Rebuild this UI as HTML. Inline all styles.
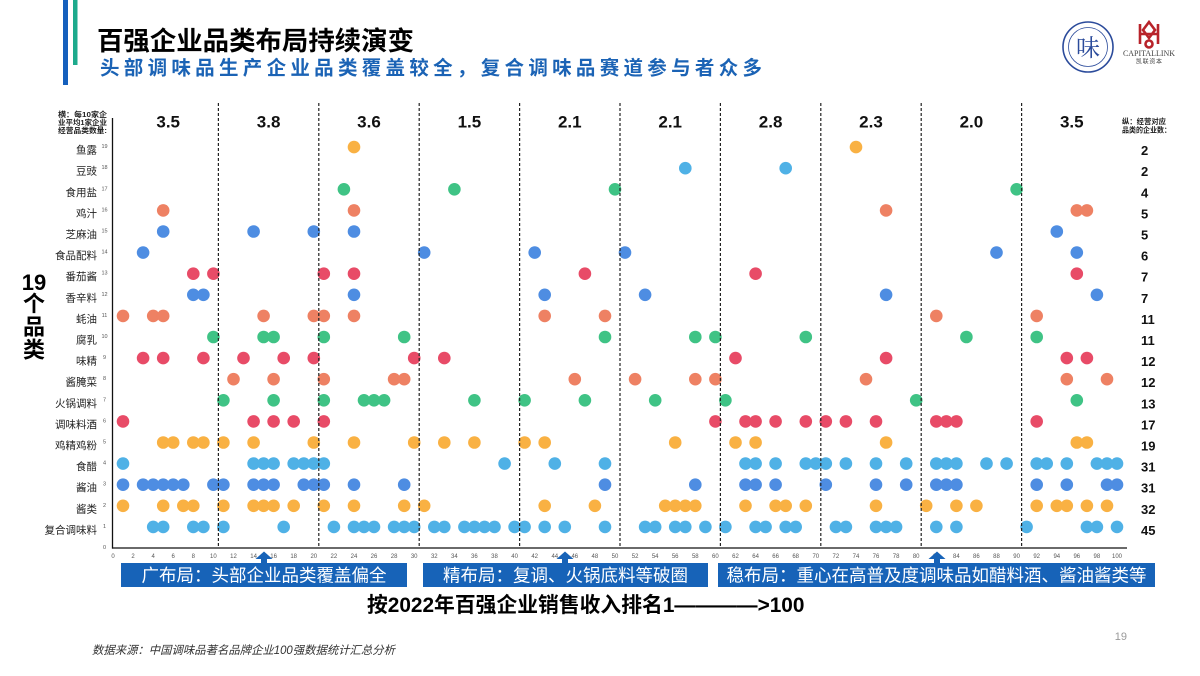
<!DOCTYPE html>
<html><head><meta charset="utf-8"><style>
html,body{margin:0;padding:0;background:#fff;}
svg{display:block;font-family:"Liberation Sans","Noto Sans CJK SC",sans-serif;}
.c{font-size:10.5px;fill:#222;}
.n{font-size:13px;font-weight:bold;fill:#111;}
.yt{font-size:5.5px;fill:#555;}
.xt{font-size:6px;fill:#555;}
.av{font-size:17px;font-weight:bold;fill:#111;}
</style></head><body>
<svg width="1200" height="676" viewBox="0 0 1200 676" xmlns="http://www.w3.org/2000/svg">
<rect width="1200" height="676" fill="#fff"/>
<!-- header bars -->
<rect x="63" y="0" width="5" height="85" fill="#1560BD"/>
<rect x="73" y="0" width="4.5" height="65" fill="#1DAA8C"/>
<text x="97" y="50" font-size="26" font-weight="bold" fill="#000" textLength="317" lengthAdjust="spacingAndGlyphs">百强企业品类布局持续演变</text>
<text x="100" y="74.5" font-size="19.5" font-weight="bold" fill="#1B63B5" textLength="662" lengthAdjust="spacing">头部调味品生产企业品类覆盖较全，复合调味品赛道参与者众多</text>
<!-- logos -->
<circle cx="1088" cy="47" r="25" fill="none" stroke="#2B4B9B" stroke-width="1.6"/>
<circle cx="1088" cy="47" r="19.5" fill="none" stroke="#2B4B9B" stroke-width="0.8"/>
<text x="1088" y="56" font-size="24" text-anchor="middle" fill="#2B4B9B" font-family="Noto Serif CJK SC, serif">味</text>
<g fill="none" stroke="#B8232A" stroke-width="2.6">
<path d="M1140 24 L1140 44 M1158 24 L1158 44 M1140 34 L1158 34"/>
<path d="M1149 22 L1143 30 L1149 38 L1155 30 Z"/>
<circle cx="1149" cy="44" r="3.5"/>
</g>
<text x="1149" y="56" font-size="8" text-anchor="middle" fill="#444" font-family="Liberation Serif, serif" textLength="52" lengthAdjust="spacingAndGlyphs">CAPITALLINK</text>
<text x="1149" y="63.5" font-size="6" text-anchor="middle" fill="#444" textLength="26" lengthAdjust="spacing">凯联资本</text>

<!-- left/right headers -->
<g font-size="7.5" font-weight="bold" fill="#222">
<text x="58" y="117" textLength="49" lengthAdjust="spacingAndGlyphs">横：每10家企</text>
<text x="58" y="125" textLength="49" lengthAdjust="spacingAndGlyphs">业平均1家企业</text>
<text x="58" y="133" textLength="49" lengthAdjust="spacingAndGlyphs">经营品类数量:</text>
<text x="1122" y="124" textLength="44" lengthAdjust="spacingAndGlyphs">纵：经营对应</text>
<text x="1122" y="132.5" textLength="49" lengthAdjust="spacingAndGlyphs">品类的企业数：</text>
</g>

<!-- 19个品类 -->
<g font-weight="bold" fill="#000" text-anchor="middle">
<text x="34" y="290" font-size="22">19</text>
<text x="34" y="311.5" font-size="22">个</text>
<text x="34" y="334.5" font-size="22">品</text>
<text x="34" y="357.5" font-size="22">类</text>
</g>

<!-- category labels -->
<g class="c" text-anchor="end" dominant-baseline="central">
<text x="97" y="150.6">鱼露</text>
<text x="97" y="171.7">豆豉</text>
<text x="97" y="192.8">食用盐</text>
<text x="97" y="213.9">鸡汁</text>
<text x="97" y="235">芝麻油</text>
<text x="97" y="256.1">食品配料</text>
<text x="97" y="277.2">番茄酱</text>
<text x="97" y="298.3">香辛料</text>
<text x="97" y="319.4">蚝油</text>
<text x="97" y="340.5">腐乳</text>
<text x="97" y="361.6">味精</text>
<text x="97" y="382.7">酱腌菜</text>
<text x="97" y="403.8">火锅调料</text>
<text x="97" y="424.9">调味料酒</text>
<text x="97" y="446">鸡精鸡粉</text>
<text x="97" y="467.1">食醋</text>
<text x="97" y="488.2">酱油</text>
<text x="97" y="509.3">酱类</text>
<text x="97" y="530.4">复合调味料</text>
</g>
<g class="yt" text-anchor="middle" dominant-baseline="central">
<text x="104.5" y="147.1">19</text><text x="104.5" y="168.2">18</text><text x="104.5" y="189.3">17</text>
<text x="104.5" y="210.4">16</text><text x="104.5" y="231.5">15</text><text x="104.5" y="252.6">14</text>
<text x="104.5" y="273.7">13</text><text x="104.5" y="294.8">12</text><text x="104.5" y="315.9">11</text>
<text x="104.5" y="337">10</text><text x="104.5" y="358.1">9</text><text x="104.5" y="379.2">8</text>
<text x="104.5" y="400.3">7</text><text x="104.5" y="421.4">6</text><text x="104.5" y="442.5">5</text>
<text x="104.5" y="463.6">4</text><text x="104.5" y="484.7">3</text><text x="104.5" y="505.8">2</text>
<text x="104.5" y="526.9">1</text><text x="104.5" y="548">0</text>
</g>

<!-- right counts -->
<g class="n" dominant-baseline="central">
<text x="1141" y="150.6">2</text>
<text x="1141" y="171.7">2</text>
<text x="1141" y="192.8">4</text>
<text x="1141" y="213.9">5</text>
<text x="1141" y="235">5</text>
<text x="1141" y="256.1">6</text>
<text x="1141" y="277.2">7</text>
<text x="1141" y="298.3">7</text>
<text x="1141" y="319.4">11</text>
<text x="1141" y="340.5">11</text>
<text x="1141" y="361.6">12</text>
<text x="1141" y="382.7">12</text>
<text x="1141" y="403.8">13</text>
<text x="1141" y="424.9">17</text>
<text x="1141" y="446">19</text>
<text x="1141" y="467.1">31</text>
<text x="1141" y="488.2">31</text>
<text x="1141" y="509.3">32</text>
<text x="1141" y="530.4">45</text>
</g>

<!-- averages -->
<g class="av" text-anchor="middle">
<text x="168.2" y="127.5">3.5</text>
<text x="268.6" y="127.5">3.8</text>
<text x="369" y="127.5">3.6</text>
<text x="469.4" y="127.5">1.5</text>
<text x="569.8" y="127.5">2.1</text>
<text x="670.2" y="127.5">2.1</text>
<text x="770.6" y="127.5">2.8</text>
<text x="871" y="127.5">2.3</text>
<text x="971.4" y="127.5">2.0</text>
<text x="1071.8" y="127.5">3.5</text>
</g>

<!-- dots -->
<g fill="#F9B143"><g transform="translate(0,147.1)"><circle cx="354" r="6.3"/><circle cx="856" r="6.3"/></g></g>
<g fill="#4FB1E6" transform="translate(0,168.2)"><circle cx="685.3" r="6.3"/><circle cx="785.7" r="6.3"/></g>
<g fill="#3FC385" transform="translate(0,189.3)"><circle cx="343.9" r="6.3"/><circle cx="454.4" r="6.3"/><circle cx="615" r="6.3"/><circle cx="1016.6" r="6.3"/></g>
<g fill="#EE8163" transform="translate(0,210.4)"><circle cx="163.2" r="6.3"/><circle cx="354" r="6.3"/><circle cx="886.1" r="6.3"/><circle cx="1076.8" r="6.3"/><circle cx="1086.9" r="6.3"/></g>
<g fill="#4E8DE2" transform="translate(0,231.5)"><circle cx="163.2" r="6.3"/><circle cx="253.6" r="6.3"/><circle cx="313.8" r="6.3"/><circle cx="354" r="6.3"/><circle cx="1056.8" r="6.3"/></g>
<g fill="#4E8DE2" transform="translate(0,252.6)"><circle cx="143.1" r="6.3"/><circle cx="424.2" r="6.3"/><circle cx="534.7" r="6.3"/><circle cx="625" r="6.3"/><circle cx="996.5" r="6.3"/><circle cx="1076.8" r="6.3"/></g>
<g fill="#E84B67" transform="translate(0,273.7)"><circle cx="193.3" r="6.3"/><circle cx="213.4" r="6.3"/><circle cx="323.8" r="6.3"/><circle cx="354" r="6.3"/><circle cx="584.9" r="6.3"/><circle cx="755.6" r="6.3"/><circle cx="1076.8" r="6.3"/></g>
<g fill="#4E8DE2" transform="translate(0,294.8)"><circle cx="193.3" r="6.3"/><circle cx="203.4" r="6.3"/><circle cx="354" r="6.3"/><circle cx="544.7" r="6.3"/><circle cx="645.1" r="6.3"/><circle cx="886.1" r="6.3"/><circle cx="1096.9" r="6.3"/></g>
<g fill="#EE8163" transform="translate(0,315.9)"><circle cx="123" r="6.3"/><circle cx="153.2" r="6.3"/><circle cx="163.2" r="6.3"/><circle cx="263.6" r="6.3"/><circle cx="313.8" r="6.3"/><circle cx="323.8" r="6.3"/><circle cx="354" r="6.3"/><circle cx="544.7" r="6.3"/><circle cx="605" r="6.3"/><circle cx="936.3" r="6.3"/><circle cx="1036.7" r="6.3"/></g>
<g fill="#3FC385" transform="translate(0,337)"><circle cx="213.4" r="6.3"/><circle cx="263.6" r="6.3"/><circle cx="273.6" r="6.3"/><circle cx="323.8" r="6.3"/><circle cx="404.2" r="6.3"/><circle cx="605" r="6.3"/><circle cx="695.3" r="6.3"/><circle cx="715.4" r="6.3"/><circle cx="805.8" r="6.3"/><circle cx="966.4" r="6.3"/><circle cx="1036.7" r="6.3"/></g>
<g fill="#E84B67" transform="translate(0,358.1)"><circle cx="143.1" r="6.3"/><circle cx="163.2" r="6.3"/><circle cx="203.4" r="6.3"/><circle cx="243.5" r="6.3"/><circle cx="283.7" r="6.3"/><circle cx="313.8" r="6.3"/><circle cx="414.2" r="6.3"/><circle cx="444.3" r="6.3"/><circle cx="735.5" r="6.3"/><circle cx="886.1" r="6.3"/><circle cx="1066.8" r="6.3"/><circle cx="1086.9" r="6.3"/></g>
<g fill="#EE8163" transform="translate(0,379.2)"><circle cx="233.5" r="6.3"/><circle cx="273.6" r="6.3"/><circle cx="323.8" r="6.3"/><circle cx="394.1" r="6.3"/><circle cx="404.2" r="6.3"/><circle cx="574.8" r="6.3"/><circle cx="635.1" r="6.3"/><circle cx="695.3" r="6.3"/><circle cx="715.4" r="6.3"/><circle cx="866" r="6.3"/><circle cx="1066.8" r="6.3"/><circle cx="1107" r="6.3"/></g>
<g fill="#3FC385" transform="translate(0,400.3)"><circle cx="223.4" r="6.3"/><circle cx="273.6" r="6.3"/><circle cx="323.8" r="6.3"/><circle cx="364" r="6.3"/><circle cx="374" r="6.3"/><circle cx="384.1" r="6.3"/><circle cx="474.4" r="6.3"/><circle cx="524.6" r="6.3"/><circle cx="584.9" r="6.3"/><circle cx="655.2" r="6.3"/><circle cx="725.4" r="6.3"/><circle cx="916.2" r="6.3"/><circle cx="1076.8" r="6.3"/></g>
<g fill="#E84B67" transform="translate(0,421.4)"><circle cx="123" r="6.3"/><circle cx="253.6" r="6.3"/><circle cx="273.6" r="6.3"/><circle cx="293.7" r="6.3"/><circle cx="323.8" r="6.3"/><circle cx="715.4" r="6.3"/><circle cx="745.5" r="6.3"/><circle cx="755.6" r="6.3"/><circle cx="775.6" r="6.3"/><circle cx="805.8" r="6.3"/><circle cx="825.8" r="6.3"/><circle cx="845.9" r="6.3"/><circle cx="876" r="6.3"/><circle cx="936.3" r="6.3"/><circle cx="946.3" r="6.3"/><circle cx="956.4" r="6.3"/><circle cx="1036.7" r="6.3"/></g>
<g fill="#F9B143" transform="translate(0,442.5)"><circle cx="163.2" r="6.3"/><circle cx="173.2" r="6.3"/><circle cx="193.3" r="6.3"/><circle cx="203.4" r="6.3"/><circle cx="223.4" r="6.3"/><circle cx="253.6" r="6.3"/><circle cx="313.8" r="6.3"/><circle cx="354" r="6.3"/><circle cx="414.2" r="6.3"/><circle cx="444.3" r="6.3"/><circle cx="474.4" r="6.3"/><circle cx="524.6" r="6.3"/><circle cx="544.7" r="6.3"/><circle cx="675.2" r="6.3"/><circle cx="735.5" r="6.3"/><circle cx="755.6" r="6.3"/><circle cx="886.1" r="6.3"/><circle cx="1076.8" r="6.3"/><circle cx="1086.9" r="6.3"/></g>
<g fill="#4FB1E6" transform="translate(0,463.6)"><circle cx="123" r="6.3"/><circle cx="253.6" r="6.3"/><circle cx="263.6" r="6.3"/><circle cx="273.6" r="6.3"/><circle cx="293.7" r="6.3"/><circle cx="303.8" r="6.3"/><circle cx="313.8" r="6.3"/><circle cx="323.8" r="6.3"/><circle cx="504.6" r="6.3"/><circle cx="554.8" r="6.3"/><circle cx="605" r="6.3"/><circle cx="745.5" r="6.3"/><circle cx="755.6" r="6.3"/><circle cx="775.6" r="6.3"/><circle cx="805.8" r="6.3"/><circle cx="815.8" r="6.3"/><circle cx="825.8" r="6.3"/><circle cx="845.9" r="6.3"/><circle cx="876" r="6.3"/><circle cx="906.2" r="6.3"/><circle cx="936.3" r="6.3"/><circle cx="946.3" r="6.3"/><circle cx="956.4" r="6.3"/><circle cx="986.5" r="6.3"/><circle cx="1006.6" r="6.3"/><circle cx="1036.7" r="6.3"/><circle cx="1046.7" r="6.3"/><circle cx="1066.8" r="6.3"/><circle cx="1096.9" r="6.3"/><circle cx="1107" r="6.3"/><circle cx="1117" r="6.3"/></g>
<g fill="#4E8DE2" transform="translate(0,484.7)"><circle cx="123" r="6.3"/><circle cx="143.1" r="6.3"/><circle cx="153.2" r="6.3"/><circle cx="163.2" r="6.3"/><circle cx="173.2" r="6.3"/><circle cx="183.3" r="6.3"/><circle cx="213.4" r="6.3"/><circle cx="223.4" r="6.3"/><circle cx="253.6" r="6.3"/><circle cx="263.6" r="6.3"/><circle cx="273.6" r="6.3"/><circle cx="303.8" r="6.3"/><circle cx="313.8" r="6.3"/><circle cx="323.8" r="6.3"/><circle cx="354" r="6.3"/><circle cx="404.2" r="6.3"/><circle cx="605" r="6.3"/><circle cx="695.3" r="6.3"/><circle cx="745.5" r="6.3"/><circle cx="755.6" r="6.3"/><circle cx="775.6" r="6.3"/><circle cx="825.8" r="6.3"/><circle cx="876" r="6.3"/><circle cx="906.2" r="6.3"/><circle cx="936.3" r="6.3"/><circle cx="946.3" r="6.3"/><circle cx="956.4" r="6.3"/><circle cx="1036.7" r="6.3"/><circle cx="1066.8" r="6.3"/><circle cx="1107" r="6.3"/><circle cx="1117" r="6.3"/></g>
<g fill="#F9B143" transform="translate(0,505.8)"><circle cx="123" r="6.3"/><circle cx="163.2" r="6.3"/><circle cx="183.3" r="6.3"/><circle cx="193.3" r="6.3"/><circle cx="223.4" r="6.3"/><circle cx="253.6" r="6.3"/><circle cx="263.6" r="6.3"/><circle cx="273.6" r="6.3"/><circle cx="293.7" r="6.3"/><circle cx="323.8" r="6.3"/><circle cx="354" r="6.3"/><circle cx="404.2" r="6.3"/><circle cx="424.2" r="6.3"/><circle cx="544.7" r="6.3"/><circle cx="594.9" r="6.3"/><circle cx="665.2" r="6.3"/><circle cx="675.2" r="6.3"/><circle cx="685.3" r="6.3"/><circle cx="695.3" r="6.3"/><circle cx="745.5" r="6.3"/><circle cx="775.6" r="6.3"/><circle cx="785.7" r="6.3"/><circle cx="805.8" r="6.3"/><circle cx="876" r="6.3"/><circle cx="926.2" r="6.3"/><circle cx="956.4" r="6.3"/><circle cx="976.4" r="6.3"/><circle cx="1036.7" r="6.3"/><circle cx="1056.8" r="6.3"/><circle cx="1066.8" r="6.3"/><circle cx="1086.9" r="6.3"/><circle cx="1107" r="6.3"/></g>
<g fill="#4FB1E6" transform="translate(0,526.9)"><circle cx="153.2" r="6.3"/><circle cx="163.2" r="6.3"/><circle cx="193.3" r="6.3"/><circle cx="203.4" r="6.3"/><circle cx="223.4" r="6.3"/><circle cx="283.7" r="6.3"/><circle cx="333.9" r="6.3"/><circle cx="354" r="6.3"/><circle cx="364" r="6.3"/><circle cx="374" r="6.3"/><circle cx="394.1" r="6.3"/><circle cx="404.2" r="6.3"/><circle cx="414.2" r="6.3"/><circle cx="434.3" r="6.3"/><circle cx="444.3" r="6.3"/><circle cx="464.4" r="6.3"/><circle cx="474.4" r="6.3"/><circle cx="484.5" r="6.3"/><circle cx="494.5" r="6.3"/><circle cx="514.6" r="6.3"/><circle cx="524.6" r="6.3"/><circle cx="544.7" r="6.3"/><circle cx="564.8" r="6.3"/><circle cx="605" r="6.3"/><circle cx="645.1" r="6.3"/><circle cx="655.2" r="6.3"/><circle cx="675.2" r="6.3"/><circle cx="685.3" r="6.3"/><circle cx="705.4" r="6.3"/><circle cx="725.4" r="6.3"/><circle cx="755.6" r="6.3"/><circle cx="765.6" r="6.3"/><circle cx="785.7" r="6.3"/><circle cx="795.7" r="6.3"/><circle cx="835.9" r="6.3"/><circle cx="845.9" r="6.3"/><circle cx="876" r="6.3"/><circle cx="886.1" r="6.3"/><circle cx="896.1" r="6.3"/><circle cx="936.3" r="6.3"/><circle cx="956.4" r="6.3"/><circle cx="1026.6" r="6.3"/><circle cx="1086.9" r="6.3"/><circle cx="1096.9" r="6.3"/><circle cx="1117" r="6.3"/></g>

<!-- dashed separators -->
<g stroke="#222" stroke-width="1.2" stroke-dasharray="3,2">
<line x1="218.4" y1="103" x2="218.4" y2="548"/>
<line x1="318.8" y1="103" x2="318.8" y2="548"/>
<line x1="419.2" y1="103" x2="419.2" y2="548"/>
<line x1="519.6" y1="103" x2="519.6" y2="548"/>
<line x1="620" y1="103" x2="620" y2="548"/>
<line x1="720.4" y1="103" x2="720.4" y2="548"/>
<line x1="820.8" y1="103" x2="820.8" y2="548"/>
<line x1="921.2" y1="103" x2="921.2" y2="548"/>
<line x1="1021.6" y1="103" x2="1021.6" y2="548"/>
</g>
<!-- axes -->
<line x1="112.5" y1="118" x2="112.5" y2="548.6" stroke="#111" stroke-width="1.3"/>
<line x1="112" y1="548" x2="1127" y2="548" stroke="#111" stroke-width="1.3"/>

<!-- x tick labels -->
<g class="xt" text-anchor="middle">
<text x="113" y="558">0</text><text x="133.1" y="558">2</text><text x="153.2" y="558">4</text><text x="173.2" y="558">6</text><text x="193.3" y="558">8</text>
<text x="213.4" y="558">10</text><text x="233.5" y="558">12</text><text x="253.6" y="558">14</text><text x="273.6" y="558">16</text><text x="293.7" y="558">18</text>
<text x="313.8" y="558">20</text><text x="333.9" y="558">22</text><text x="354" y="558">24</text><text x="374" y="558">26</text><text x="394.1" y="558">28</text>
<text x="414.2" y="558">30</text><text x="434.3" y="558">32</text><text x="454.4" y="558">34</text><text x="474.4" y="558">36</text><text x="494.5" y="558">38</text>
<text x="514.6" y="558">40</text><text x="534.7" y="558">42</text><text x="554.8" y="558">44</text><text x="574.8" y="558">46</text><text x="594.9" y="558">48</text>
<text x="615" y="558">50</text><text x="635.1" y="558">52</text><text x="655.2" y="558">54</text><text x="675.2" y="558">56</text><text x="695.3" y="558">58</text>
<text x="715.4" y="558">60</text><text x="735.5" y="558">62</text><text x="755.6" y="558">64</text><text x="775.6" y="558">66</text><text x="795.7" y="558">68</text>
<text x="815.8" y="558">70</text><text x="835.9" y="558">72</text><text x="856" y="558">74</text><text x="876" y="558">76</text><text x="896.1" y="558">78</text>
<text x="916.2" y="558">80</text><text x="936.3" y="558">82</text><text x="956.4" y="558">84</text><text x="976.4" y="558">86</text><text x="996.5" y="558">88</text>
<text x="1016.6" y="558">90</text><text x="1036.7" y="558">92</text><text x="1056.8" y="558">94</text><text x="1076.8" y="558">96</text><text x="1096.9" y="558">98</text>
<text x="1117" y="558">100</text>
</g>

<!-- arrows -->
<g fill="#1763B8">
<path d="M255.5 559 L272.5 559 L264 551.5 Z"/><rect x="261" y="558" width="6" height="6"/>
<path d="M556.5 559 L573.5 559 L565 551.5 Z"/><rect x="562" y="558" width="6" height="6"/>
<path d="M928.5 559 L945.5 559 L937 551.5 Z"/><rect x="934" y="558" width="6" height="6"/>
</g>
<!-- blue boxes -->
<rect x="121" y="563" width="286" height="24" fill="#1763B8"/>
<rect x="423" y="563" width="285" height="24" fill="#1763B8"/>
<rect x="718" y="563" width="437" height="24" fill="#1763B8"/>
<g fill="#fff" font-size="17.5" text-anchor="middle">
<text x="264" y="581.5">广布局：头部企业品类覆盖偏全</text>
<text x="565.5" y="581.5">精布局：复调、火锅底料等破圈</text>
<text x="936.5" y="581.5">稳布局：重心在高普及度调味品如醋料酒、酱油酱类等</text>
</g>

<!-- bottom axis title -->
<text x="367" y="612" font-size="20.8" font-weight="bold" fill="#000">按2022年百强企业销售收入排名1————&gt;100</text>

<!-- source & page -->
<text x="92" y="654" font-size="11.5" font-style="italic" fill="#333" textLength="303" lengthAdjust="spacingAndGlyphs">数据来源：中国调味品著名品牌企业100强数据统计汇总分析</text>
<text x="1127" y="640" font-size="11" fill="#999" text-anchor="end">19</text>
</svg>
</body></html>
